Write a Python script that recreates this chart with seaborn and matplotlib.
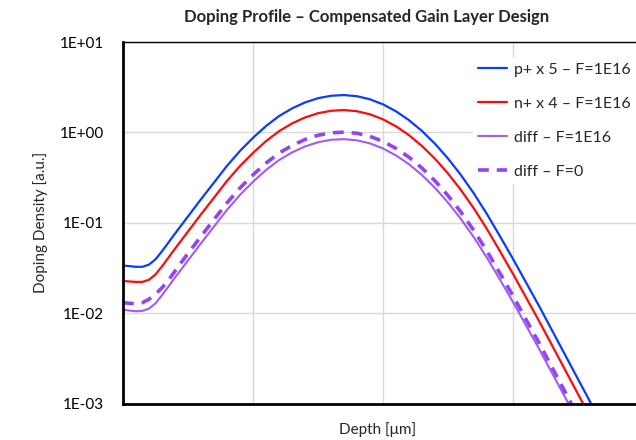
import numpy as np
import pandas as pd
import matplotlib
matplotlib.use("Agg")
import matplotlib.pyplot as plt
import seaborn as sns
from matplotlib.ticker import FixedLocator, FuncFormatter, LogLocator, NullFormatter

# Depth grid in µm (finer steps near the surface dip)
depth = [0.00, 0.05, 0.10, 0.15, 0.20, 0.25, 0.30, 0.35, 0.40, 0.45, 0.50, 0.55,
         0.60, 0.70, 0.80, 0.90, 1.00, 1.10, 1.20, 1.30, 1.40, 1.50, 1.60, 1.70,
         1.80, 1.90, 2.00, 2.10, 2.20, 2.30, 2.40, 2.50, 2.60, 2.70, 2.80, 2.90,
         3.00, 3.10, 3.20, 3.30, 3.40, 3.50, 3.60, 3.70]

# log10 of the doping density (a.u.) for each profile
p_plus_log = [-1.474, -1.480, -1.488, -1.487, -1.463, -1.405, -1.315, -1.218, -1.120,
              -1.025, -0.930, -0.835, -0.740, -0.555, -0.370, -0.205, -0.060, 0.070,
              0.180, 0.265, 0.331, 0.378, 0.405, 0.413, 0.400, 0.366, 0.310, 0.233,
              0.135, 0.015, -0.126, -0.289, -0.473, -0.678, -0.905, -1.150, -1.400,
              -1.660, -1.920, -2.190, -2.460, -2.730, -3.000, -3.280]

n_plus_log = [-1.645, -1.650, -1.655, -1.654, -1.631, -1.572, -1.482, -1.385, -1.287,
              -1.192, -1.097, -1.002, -0.907, -0.722, -0.537, -0.372, -0.227, -0.097,
              0.013, 0.099, 0.165, 0.212, 0.239, 0.247, 0.234, 0.200, 0.144, 0.067,
              -0.031, -0.151, -0.292, -0.455, -0.639, -0.844, -1.071, -1.316, -1.566,
              -1.826, -2.086, -2.356, -2.626, -2.896, -3.166, -3.446]

diff_f16_log = [-1.962, -1.972, -1.979, -1.975, -1.950, -1.892, -1.802, -1.705, -1.607,
                -1.512, -1.417, -1.322, -1.227, -1.042, -0.857, -0.692, -0.547, -0.417,
                -0.307, -0.222, -0.156, -0.109, -0.082, -0.075, -0.088, -0.122, -0.178,
                -0.255, -0.353, -0.473, -0.614, -0.777, -0.960, -1.163, -1.388, -1.630,
                -1.878, -2.136, -2.394, -2.662, -2.930, -3.198, -3.466, -3.744]

diff_f0_log = [-1.884, -1.892, -1.896, -1.884, -1.846, -1.790, -1.720, -1.635, -1.535,
               -1.435, -1.340, -1.245, -1.150, -0.965, -0.780, -0.615, -0.470, -0.340,
               -0.230, -0.145, -0.079, -0.032, -0.005, 0.003, -0.010, -0.044, -0.100,
               -0.177, -0.275, -0.395, -0.536, -0.699, -0.883, -1.088, -1.315, -1.560,
               -1.810, -2.070, -2.330, -2.600, -2.870, -3.140, -3.410, -3.690]

labels = ["p+ x 5 – F=1E16", "n+ x 4 – F=1E16", "diff – F=1E16", "diff – F=0"]
colors = ["#0A3CFF", "#FF0A0A", "#A05CF5", "#9443F5"]

sns.set_style("white")
plt.rcParams["font.family"] = ["Lato", "DejaVu Sans"]

fig = plt.figure(figsize=(6.36, 4.40), dpi=100)
ax = fig.add_axes([123 / 636, 1 - 403.5 / 440, 1 - 123 / 636, (403.5 - 42) / 440])

series = [p_plus_log, n_plus_log, diff_f16_log, diff_f0_log]
styles = [dict(lw=1.6), dict(lw=1.6), dict(lw=1.5), dict(lw=2.6, dashes=(3.0, 2.2))]
for vals, lab, col, st in zip(series, labels, colors, styles):
    df = pd.DataFrame({"Depth": depth, "Density": 10.0 ** np.asarray(vals)})
    sns.lineplot(data=df, x="Depth", y="Density", color=col, label=lab, ax=ax,
                 lw=st["lw"])
    if "dashes" in st:
        ax.lines[-1].set_dashes(st["dashes"])

ax.set_yscale("log")
ax.set_ylim(1e-3, 1e1)
ax.set_xlim(0, (636 - 123) / 130)

# Axis ticks: decades on y, unlabelled depth ticks on x
ax.yaxis.set_major_locator(LogLocator(base=10, numticks=10))
ax.yaxis.set_minor_locator(LogLocator(base=10, subs=np.arange(2, 10), numticks=20))
ax.yaxis.set_minor_formatter(NullFormatter())
ax.yaxis.set_major_formatter(
    FuncFormatter(lambda v, _: f"1E{int(round(np.log10(v))):+03d}"))
ax.xaxis.set_major_locator(FixedLocator([0, 1, 2, 3]))
ax.xaxis.set_minor_locator(FixedLocator(np.arange(0, 4.0, 0.2)))
ax.set_xticklabels([])

ax.tick_params(axis="y", which="both", direction="in", length=5, width=1.4,
               labelsize=11, pad=14, colors="black")
ax.tick_params(axis="x", which="both", direction="in", length=5, width=1.4)

ax.grid(True, which="major", color="#D9D9D9", lw=1.0)
ax.set_axisbelow(True)

for side in ["left", "bottom"]:
    ax.spines[side].set_linewidth(2.0)
    ax.spines[side].set_color("black")
ax.spines["top"].set_linewidth(1.0)
ax.spines["top"].set_color("black")
ax.spines["right"].set_visible(False)

ax.set_xlabel("")
ax.set_ylabel("Doping Density [a.u.]", fontsize=11, labelpad=8)
fig.text(378 / 636, 1 - 430 / 440, "Depth [μm]", ha="center", va="center",
         fontsize=11)

fig.text(367 / 636, 1 - 17 / 440, "Doping Profile – Compensated Gain Layer Design",
         ha="center", va="center", fontsize=12, fontweight="bold")

leg = ax.legend(loc="upper right", bbox_to_anchor=(1.0, 0.957), fontsize=11.5,
                frameon=True, framealpha=1.0, edgecolor="none", fancybox=False,
                handlelength=1.85, handletextpad=0.45, labelspacing=1.25,
                borderaxespad=0.0, borderpad=0.3)
leg.get_frame().set_facecolor("white")

fig.savefig("out.png", dpi=100)
